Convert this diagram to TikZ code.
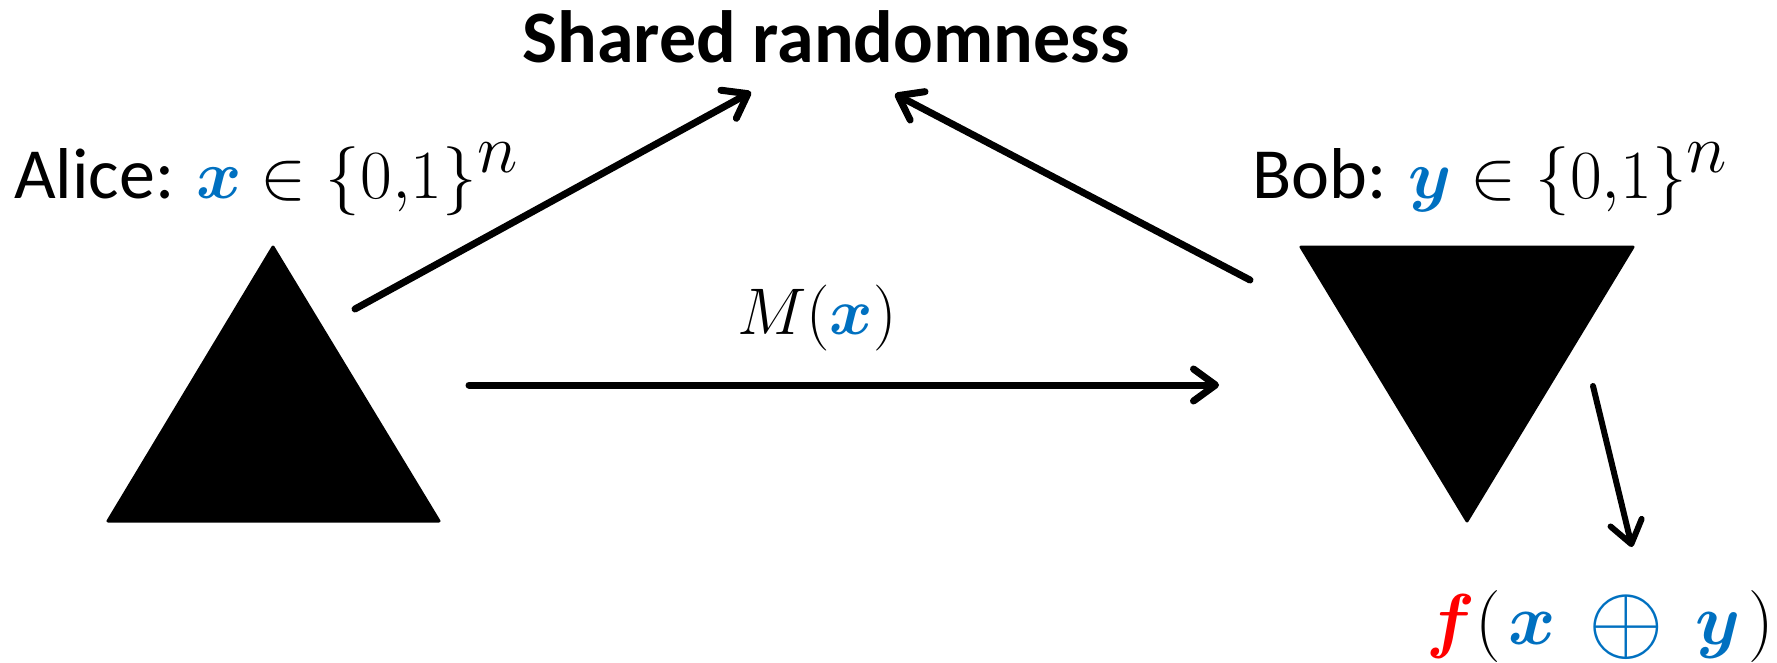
\documentclass[tikz,border=0pt]{standalone}
\usepackage{fix-cm}
\usepackage{graphicx}
\usepackage{fontspec}
\setmainfont{Carlito}
\usepackage{amsmath,bm}
\usetikzlibrary{arrows.meta}
\definecolor{xblue}{RGB}{0,112,192}
\definecolor{fred}{RGB}{255,0,0}
\newcommand{\mathsz}{\fontsize{69}{72}\selectfont}
\begin{document}
\begin{tikzpicture}[x=1pt,y=-1pt,
  conn/.style={line width=7pt, line cap=round, -{Straight Barb[length=22pt,width=32pt,round]}},
  thinconn/.style={conn, line width=6pt},
  lbl/.style={inner sep=0pt, anchor=base west, font=\fontsize{72}{76}\selectfont},
  lblm/.style={inner sep=0pt, anchor=base west, font=\fontsize{66}{70}\selectfont},
  tri/.style={fill=black, draw=black, line width=3pt, line join=round}]
\useasboundingbox (0,0) rectangle (1777,662);
% triangles
\coordinate (aT) at (273,247);
\coordinate (aL) at (108,521);
\coordinate (aR) at (439,521);
\coordinate (bL) at (1301,247);
\coordinate (bR) at (1633,247);
\coordinate (bB) at (1467,521);
\filldraw[tri] (aT) -- (aL) -- (aR) -- cycle;
\filldraw[tri] (bL) -- (bR) -- (bB) -- cycle;
% labels
\node[inner sep=0pt, anchor=base, font=\fontsize{74}{80}\selectfont\bfseries] (sr) at (826,62) {Shared randomness};
\node[lbl] (alice) at (14,198) {Alice: {\mathsz$\textcolor{xblue}{\bm{x}}\in\{0{,}1\}^{\textstyle n}$}};
\node[lbl] (bob) at (1252,198) {Bob: {\mathsz$\textcolor{xblue}{\bm{y}}\in\{0{,}1\}^{\textstyle n}$}};
\node[lblm] (msg) at (737,334) {$M(\textcolor{xblue}{\bm{x}})$};
\node[inner sep=0pt, anchor=base west, font=\fontsize{72}{76}\selectfont] (out) at (1426,644) {$\textcolor{fred}{\bm{f}}(\mkern2mu\textcolor{xblue}{\bm{x}\mkern4mu\mathbin{\raisebox{-0.1em}{\scalebox{1.35}{$\oplus$}}}\mkern4mu\bm{y}}\mkern2mu)$};
% connector ends
\coordinate (a1) at (355,309);
\coordinate (s1) at (751,92);
\coordinate (b1) at (1250,280);
\coordinate (s2) at (895,94);
\coordinate (a2) at (469,385);
\coordinate (b2) at (1219,385);
\coordinate (b3) at (1593,386);
\coordinate (o1) at (1632,547);
\draw[conn] (a1) -- (s1);
\draw[conn] (b1) -- (s2);
\draw[conn] (a2) -- (b2);
\draw[thinconn] (b3) -- (o1);
\end{tikzpicture}
\end{document}
